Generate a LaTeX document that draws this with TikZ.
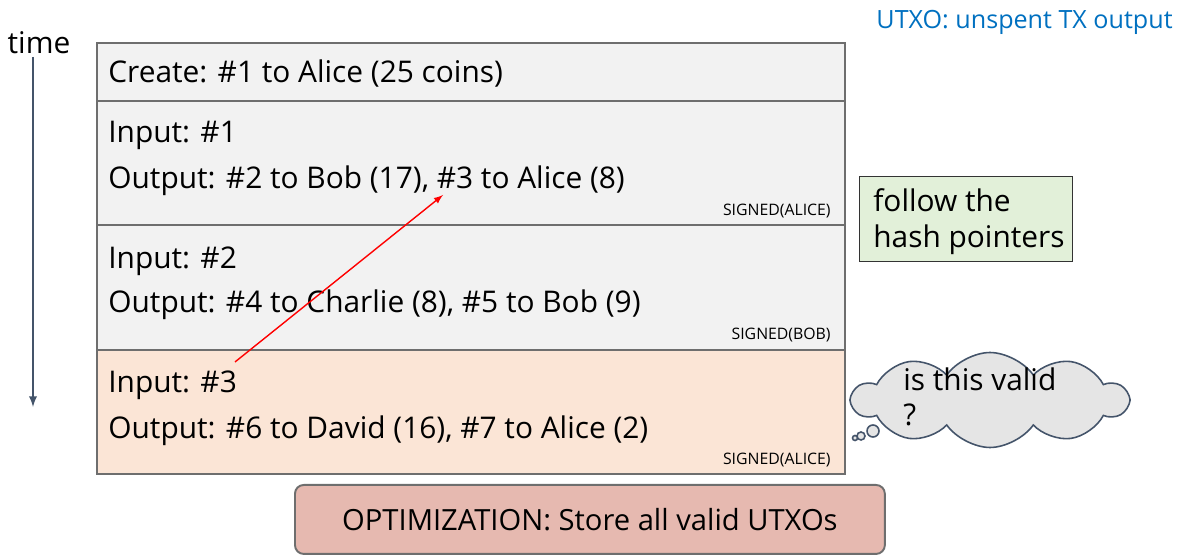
\documentclass[tikz,border=0pt]{standalone}
\usepackage{fontspec}
\setmainfont{Open Sans}
\usetikzlibrary{shapes.symbols}
\definecolor{rowgray}{HTML}{F2F2F2}
\definecolor{rowpeach}{HTML}{FBE5D6}
\definecolor{framegray}{HTML}{6E6E6E}
\definecolor{slate}{HTML}{44546A}
\definecolor{notegreen}{HTML}{E2F0D9}
\definecolor{optired}{HTML}{E6B9B0}
\definecolor{utxoblue}{HTML}{0070C0}

\begin{document}
\begin{tikzpicture}[x=.02cm,y=-.02cm,
  row/.style={draw=framegray,line width=1.1pt,anchor=north west,minimum width=14.96cm,inner sep=0},
  txt/.style={anchor=west,inner sep=0,font=\fontsize{17}{20.4}\selectfont},
  sig/.style={anchor=east,inner sep=0,font=\fontsize{9}{11}\selectfont}]
  \useasboundingbox (0,0) rectangle (1184,560);
  % the four transactions
  \node[row,fill=rowgray,minimum height=1.16cm] (tx0) at (96,42) {};
  \node[row,fill=rowgray,minimum height=2.48cm] (tx1) at (96,100) {};
  \node[row,fill=rowgray,minimum height=2.5cm] (tx2) at (96,224) {};
  \node[row,fill=rowpeach,minimum height=2.48cm] (tx3) at (96,349) {};
  \node[txt] (create) at (108,74) {Create: \#1 to Alice (25 coins)};
  \node[txt] (in1) at (108,135) {Input: \#1};
  \node[txt] (out1) at (108,181) {Output: \#2 to Bob (17), \#3 to Alice (8)};
  \node[sig] (sig1) at (831,211) {SIGNED(ALICE)};
  \node[txt] (in2) at (108,261) {Input: \#2};
  \node[txt] (out2) at (108,305) {Output: \#4 to Charlie (8), \#5 to Bob (9)};
  \node[sig] (sig2) at (831,335) {SIGNED(BOB)};
  \node[txt] (in3) at (108,385) {Input: \#3};
  \node[txt] (out3) at (108,431) {Output: \#6 to David (16), \#7 to Alice (2)};
  \node[sig] (sig3) at (831,460) {SIGNED(ALICE)};
  % time axis
  \node[txt,anchor=center] (time) at (39,43) {time};
  \coordinate (tend) at (33,407);
  \draw[slate,line width=1.1pt,-latex] (33,57) -- (tend);
  % back pointer
  \coordinate (ptr) at (235,362);
  \coordinate (ref) at (443,195);
  \draw[red,line width=.8pt,-latex] (ptr) -- (ref);
  % notes
  \node[txt,anchor=east,text=utxoblue,font=\fontsize{14.3}{17}\selectfont] (utxo) at (1173,22) {UTXO: unspent TX output};
  \node[draw=black!80,line width=.6pt,fill=notegreen,anchor=north west,minimum width=4.26cm,minimum height=1.7cm] (note) at (859,176) {};
  \node[txt,align=left,anchor=north west] (follow) at (873,188) {follow the\\hash pointers};
  \node[cloud,cloud puffs=10,cloud puff arc=110,aspect=2.9,draw=slate,line width=.9pt,fill=black!10,minimum width=5.5cm,minimum height=1.9cm] (bubble) at (990,400) {};
  \draw[slate,line width=.9pt,fill=black!10] (873,431) circle (6) (861,436) circle (4) (855,438) circle (2.5);
  \node[txt,align=left,anchor=north west] (valid) at (903,367) {is this valid\\?};
  \node[draw=framegray,line width=1.1pt,fill=optired,rounded corners=5pt,anchor=north west,minimum width=11.8cm,minimum height=1.38cm,font=\fontsize{16.6}{20}\selectfont] (opt) at (294,484) {OPTIMIZATION: Store all valid UTXOs};
\end{tikzpicture}
\end{document}
